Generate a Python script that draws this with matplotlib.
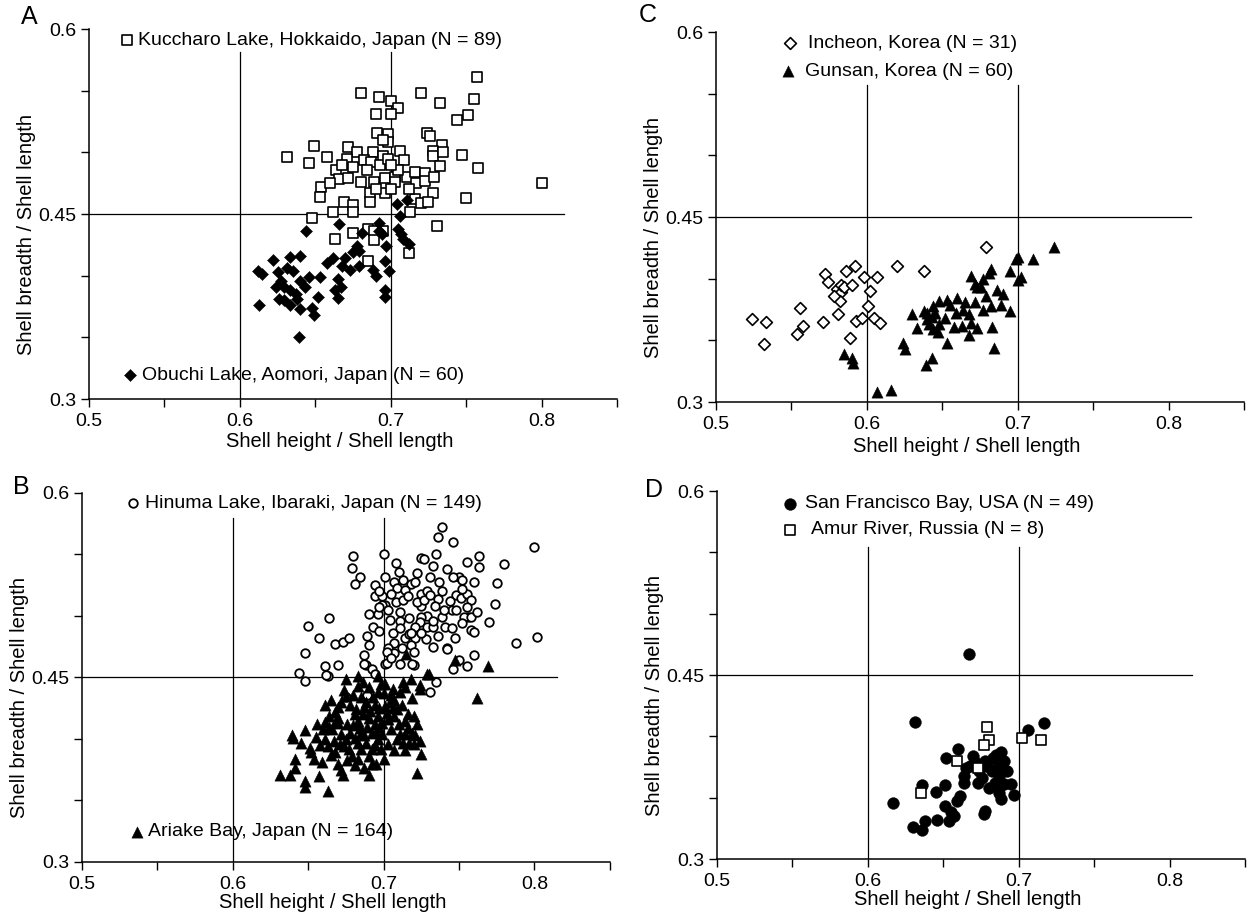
import matplotlib.pyplot as plt
import numpy as np

plt.rcParams["font.family"] = ["Liberation Sans", "DejaVu Sans"]

# ---- panel A: Kuccharo Lake (open squares), Obuchi Lake (filled diamonds)
kuccharo = np.array([
    (0.757, 0.561), (0.680, 0.548), (0.692, 0.545), (0.700, 0.542), (0.720, 0.548),
    (0.705, 0.536), (0.733, 0.540), (0.755, 0.543), (0.690, 0.531), (0.700, 0.531),
    (0.751, 0.530), (0.744, 0.526), (0.691, 0.516), (0.698, 0.515), (0.724, 0.516),
    (0.726, 0.513), (0.698, 0.508), (0.734, 0.506), (0.649, 0.505), (0.672, 0.504),
    (0.631, 0.496), (0.646, 0.491), (0.658, 0.496), (0.678, 0.500), (0.688, 0.500),
    (0.695, 0.497), (0.706, 0.501), (0.709, 0.494), (0.728, 0.501), (0.728, 0.497),
    (0.747, 0.498), (0.671, 0.495), (0.682, 0.494), (0.687, 0.492), (0.693, 0.490),
    (0.698, 0.495), (0.733, 0.489), (0.758, 0.487), (0.664, 0.486), (0.675, 0.488),
    (0.666, 0.478), (0.672, 0.479), (0.680, 0.476), (0.689, 0.476), (0.696, 0.479),
    (0.703, 0.480), (0.703, 0.476), (0.711, 0.480), (0.716, 0.484), (0.717, 0.475),
    (0.723, 0.483), (0.723, 0.477), (0.729, 0.480), (0.800, 0.475), (0.654, 0.472),
    (0.653, 0.464), (0.686, 0.467), (0.686, 0.460), (0.696, 0.467), (0.669, 0.460),
    (0.675, 0.457), (0.716, 0.462), (0.720, 0.459), (0.728, 0.467), (0.750, 0.463),
    (0.662, 0.452), (0.648, 0.447), (0.713, 0.452), (0.731, 0.440), (0.675, 0.435),
    (0.663, 0.430), (0.685, 0.438), (0.689, 0.436), (0.689, 0.429), (0.695, 0.436),
    (0.685, 0.412), (0.712, 0.418), (0.668, 0.490), (0.684, 0.486), (0.700, 0.470),
    (0.712, 0.470), (0.705, 0.486), (0.690, 0.470), (0.660, 0.475), (0.735, 0.500),
    (0.725, 0.460), (0.700, 0.490), (0.675, 0.452), (0.695, 0.510),
])
obuchi = np.array([
    (0.704, 0.458), (0.711, 0.461), (0.706, 0.448), (0.692, 0.443), (0.666, 0.442),
    (0.644, 0.436), (0.681, 0.435), (0.692, 0.436), (0.694, 0.434), (0.705, 0.438),
    (0.707, 0.434), (0.708, 0.430), (0.712, 0.426), (0.697, 0.424), (0.678, 0.424),
    (0.679, 0.420), (0.675, 0.419), (0.670, 0.414), (0.662, 0.414), (0.658, 0.410),
    (0.668, 0.408), (0.673, 0.405), (0.679, 0.408), (0.688, 0.405), (0.690, 0.400),
    (0.696, 0.412), (0.699, 0.404), (0.696, 0.388), (0.696, 0.383), (0.665, 0.397),
    (0.663, 0.388), (0.667, 0.391), (0.665, 0.382), (0.653, 0.399), (0.652, 0.383),
    (0.646, 0.399), (0.640, 0.396), (0.640, 0.416), (0.633, 0.415), (0.622, 0.413),
    (0.612, 0.404), (0.615, 0.401), (0.625, 0.403), (0.631, 0.406), (0.635, 0.404),
    (0.627, 0.396), (0.629, 0.391), (0.633, 0.388), (0.637, 0.385), (0.626, 0.381),
    (0.613, 0.376), (0.633, 0.376), (0.640, 0.373), (0.648, 0.374), (0.649, 0.368),
    (0.639, 0.350), (0.629, 0.380), (0.638, 0.381), (0.624, 0.391), (0.643, 0.391),
])

# ---- panel B: Hinuma Lake (open circles), Ariake Bay (filled triangles)
hinuma = np.array([
    (0.739, 0.572), (0.736, 0.564), (0.746, 0.560), (0.800, 0.556), (0.680, 0.549),
    (0.700, 0.550), (0.708, 0.543), (0.725, 0.547), (0.727, 0.546), (0.735, 0.550),
    (0.763, 0.549), (0.755, 0.544), (0.780, 0.542), (0.679, 0.539), (0.684, 0.532),
    (0.681, 0.526), (0.701, 0.532), (0.733, 0.541), (0.763, 0.540), (0.731, 0.532),
    (0.737, 0.528), (0.750, 0.532), (0.752, 0.529), (0.760, 0.528), (0.775, 0.527),
    (0.707, 0.528), (0.713, 0.529), (0.718, 0.526), (0.721, 0.528), (0.694, 0.525),
    (0.709, 0.523), (0.714, 0.521), (0.694, 0.516), (0.699, 0.516), (0.725, 0.518),
    (0.729, 0.520), (0.736, 0.514), (0.748, 0.517), (0.751, 0.515), (0.755, 0.518),
    (0.758, 0.513), (0.774, 0.510), (0.708, 0.511), (0.713, 0.513), (0.701, 0.509),
    (0.699, 0.509), (0.703, 0.505), (0.711, 0.503), (0.690, 0.502), (0.696, 0.502),
    (0.725, 0.508), (0.734, 0.508), (0.745, 0.505), (0.748, 0.505), (0.755, 0.507),
    (0.756, 0.499), (0.753, 0.499), (0.758, 0.499), (0.739, 0.499), (0.729, 0.500),
    (0.725, 0.499), (0.724, 0.495), (0.711, 0.496), (0.664, 0.498), (0.650, 0.492),
    (0.693, 0.491), (0.721, 0.491), (0.729, 0.491), (0.733, 0.491), (0.741, 0.491),
    (0.770, 0.495), (0.758, 0.489), (0.760, 0.487), (0.802, 0.483), (0.788, 0.478),
    (0.657, 0.482), (0.668, 0.477), (0.673, 0.479), (0.677, 0.482), (0.689, 0.484),
    (0.690, 0.476), (0.706, 0.486), (0.707, 0.478), (0.703, 0.474), (0.714, 0.482),
    (0.717, 0.485), (0.721, 0.482), (0.728, 0.481), (0.718, 0.476), (0.720, 0.471),
    (0.747, 0.482), (0.742, 0.474), (0.760, 0.468), (0.750, 0.464), (0.755, 0.459),
    (0.746, 0.457), (0.648, 0.470), (0.661, 0.459), (0.663, 0.451), (0.670, 0.460),
    (0.644, 0.454), (0.648, 0.447), (0.687, 0.468), (0.688, 0.460), (0.692, 0.457),
    (0.701, 0.461), (0.707, 0.470), (0.702, 0.471), (0.711, 0.461), (0.720, 0.460),
    (0.735, 0.446), (0.662, 0.452), (0.694, 0.453), (0.731, 0.438), (0.675, 0.434),
    (0.689, 0.436), (0.742, 0.473), (0.702, 0.462), (0.719, 0.461), (0.687, 0.461),
    (0.697, 0.520), (0.705, 0.518), (0.716, 0.516), (0.722, 0.511), (0.727, 0.513),
    (0.731, 0.517), (0.739, 0.520), (0.744, 0.512), (0.752, 0.522), (0.740, 0.505),
    (0.733, 0.496), (0.717, 0.498), (0.704, 0.497), (0.697, 0.507), (0.711, 0.490),
    (0.718, 0.486), (0.725, 0.486), (0.736, 0.484), (0.745, 0.490), (0.752, 0.494),
    (0.762, 0.503), (0.712, 0.474), (0.733, 0.475), (0.697, 0.488), (0.705, 0.466),
    (0.746, 0.532), (0.742, 0.538), (0.722, 0.535), (0.710, 0.536),
])
ariake = np.array([
    (0.720, 0.419), (0.722, 0.372), (0.656, 0.412), (0.648, 0.407), (0.639, 0.403),
    (0.645, 0.397), (0.631, 0.371), (0.638, 0.371), (0.641, 0.376), (0.641, 0.384),
    (0.648, 0.366), (0.648, 0.361), (0.663, 0.358), (0.657, 0.370), (0.652, 0.389),
    (0.654, 0.384), (0.672, 0.375), (0.673, 0.371), (0.683, 0.384), (0.690, 0.371),
    (0.692, 0.380), (0.695, 0.380), (0.687, 0.376), (0.717, 0.397), (0.720, 0.396),
    (0.714, 0.391), (0.719, 0.405), (0.714, 0.404), (0.709, 0.400), (0.705, 0.408),
    (0.707, 0.419), (0.703, 0.416), (0.661, 0.400), (0.666, 0.408), (0.668, 0.389),
    (0.674, 0.394), (0.679, 0.386), (0.683, 0.397), (0.687, 0.403), (0.692, 0.392),
    (0.661, 0.414), (0.670, 0.417), (0.676, 0.412), (0.683, 0.415), (0.690, 0.417),
    (0.694, 0.412), (0.672, 0.404), (0.678, 0.405), (0.696, 0.400), (0.659, 0.381),
    (0.663, 0.394), (0.664, 0.419), (0.675, 0.449), (0.683, 0.451), (0.730, 0.453),
    (0.724, 0.441), (0.714, 0.442), (0.711, 0.438), (0.718, 0.449), (0.747, 0.464),
    (0.715, 0.469), (0.661, 0.428), (0.670, 0.426), (0.683, 0.443), (0.690, 0.442),
    (0.701, 0.445), (0.696, 0.438), (0.705, 0.436), (0.707, 0.432), (0.709, 0.424),
    (0.701, 0.427), (0.694, 0.428), (0.687, 0.426), (0.681, 0.420), (0.670, 0.413),
    (0.683, 0.413), (0.696, 0.419), (0.675, 0.435), (0.685, 0.434), (0.714, 0.415),
    (0.686, 0.446), (0.696, 0.451), (0.713, 0.446), (0.729, 0.453), (0.724, 0.444),
    (0.769, 0.459), (0.762, 0.433), (0.721, 0.403), (0.640, 0.401), (0.665, 0.432),
    (0.668, 0.422), (0.672, 0.430), (0.674, 0.440), (0.678, 0.428), (0.680, 0.436),
    (0.682, 0.424), (0.684, 0.409), (0.686, 0.420), (0.688, 0.430), (0.689, 0.410),
    (0.691, 0.423), (0.693, 0.434), (0.695, 0.406), (0.697, 0.425), (0.699, 0.413),
    (0.700, 0.437), (0.702, 0.421), (0.704, 0.430), (0.698, 0.392), (0.700, 0.384),
    (0.706, 0.425), (0.710, 0.412), (0.712, 0.428), (0.716, 0.420), (0.719, 0.433),
    (0.667, 0.398), (0.671, 0.396), (0.675, 0.400), (0.677, 0.392), (0.681, 0.401),
    (0.685, 0.392), (0.688, 0.397), (0.690, 0.386), (0.694, 0.395), (0.681, 0.379),
    (0.676, 0.383), (0.670, 0.380), (0.665, 0.387), (0.658, 0.395), (0.655, 0.402),
    (0.651, 0.393), (0.660, 0.408), (0.664, 0.410), (0.668, 0.414), (0.685, 0.405),
    (0.680, 0.411), (0.692, 0.405), (0.697, 0.410), (0.699, 0.404), (0.703, 0.396),
    (0.707, 0.391), (0.711, 0.404), (0.713, 0.397), (0.716, 0.409), (0.722, 0.412),
    (0.724, 0.398), (0.725, 0.388), (0.706, 0.441), (0.698, 0.445),
])

# ---- panel C: Incheon (open diamonds), Gunsan (filled triangles)
incheon = np.array([
    (0.679, 0.426), (0.524, 0.367), (0.533, 0.365), (0.532, 0.347), (0.556, 0.376),
    (0.558, 0.362), (0.554, 0.355), (0.571, 0.365), (0.572, 0.404), (0.574, 0.397),
    (0.580, 0.392), (0.583, 0.389), (0.583, 0.395), (0.585, 0.393), (0.582, 0.382),
    (0.581, 0.371), (0.586, 0.406), (0.592, 0.410), (0.598, 0.401), (0.607, 0.401),
    (0.602, 0.390), (0.601, 0.378), (0.593, 0.366), (0.597, 0.368), (0.605, 0.368),
    (0.609, 0.364), (0.589, 0.352), (0.620, 0.410), (0.638, 0.406), (0.590, 0.395),
    (0.578, 0.386),
])
gunsan = np.array([
    (0.724, 0.426), (0.700, 0.418), (0.710, 0.416), (0.699, 0.416), (0.695, 0.406),
    (0.702, 0.401), (0.682, 0.408), (0.681, 0.405), (0.677, 0.400), (0.669, 0.402),
    (0.673, 0.393), (0.676, 0.393), (0.686, 0.391), (0.630, 0.371), (0.638, 0.374),
    (0.640, 0.367), (0.641, 0.363), (0.643, 0.369), (0.644, 0.378), (0.648, 0.382),
    (0.653, 0.383), (0.660, 0.384), (0.665, 0.381), (0.672, 0.381), (0.677, 0.375),
    (0.682, 0.378), (0.689, 0.379), (0.695, 0.374), (0.659, 0.372), (0.658, 0.361),
    (0.663, 0.362), (0.668, 0.371), (0.669, 0.364), (0.673, 0.360), (0.668, 0.354),
    (0.683, 0.361), (0.684, 0.344), (0.653, 0.348), (0.644, 0.359), (0.624, 0.348),
    (0.625, 0.343), (0.643, 0.336), (0.639, 0.330), (0.585, 0.339), (0.590, 0.336),
    (0.591, 0.332), (0.607, 0.308), (0.616, 0.310), (0.648, 0.363), (0.645, 0.372),
    (0.652, 0.368), (0.640, 0.372), (0.664, 0.375), (0.690, 0.388), (0.700, 0.399),
    (0.647, 0.357), (0.672, 0.396), (0.679, 0.386), (0.633, 0.360), (0.655, 0.379),
])

# ---- panel D: San Francisco Bay (filled circles), Amur River (open squares)
san_francisco = np.array([
    (0.667, 0.467), (0.631, 0.412), (0.717, 0.411), (0.706, 0.405), (0.660, 0.390),
    (0.652, 0.382), (0.617, 0.346), (0.636, 0.360), (0.630, 0.326), (0.638, 0.331),
    (0.645, 0.355), (0.651, 0.360), (0.661, 0.351), (0.651, 0.343), (0.655, 0.338),
    (0.657, 0.335), (0.654, 0.331), (0.664, 0.368), (0.664, 0.362), (0.668, 0.376),
    (0.671, 0.379), (0.674, 0.372), (0.673, 0.362), (0.678, 0.380), (0.679, 0.376),
    (0.682, 0.372), (0.685, 0.385), (0.688, 0.387), (0.690, 0.380), (0.686, 0.375),
    (0.687, 0.368), (0.684, 0.362), (0.688, 0.360), (0.690, 0.361), (0.695, 0.361),
    (0.687, 0.354), (0.688, 0.349), (0.697, 0.352), (0.678, 0.339), (0.677, 0.337),
    (0.670, 0.384), (0.665, 0.374), (0.676, 0.366), (0.683, 0.382), (0.692, 0.372),
    (0.680, 0.358), (0.659, 0.347), (0.646, 0.332), (0.636, 0.324),
])
amur = np.array([
    (0.679, 0.408), (0.680, 0.397), (0.677, 0.393), (0.702, 0.399), (0.715, 0.397),
    (0.659, 0.380), (0.673, 0.374), (0.635, 0.354),
])

x_ticks = [0.5, 0.55, 0.6, 0.65, 0.7, 0.75, 0.8, 0.85]
x_tick_labels = ["0.5", "", "0.6", "", "0.7", "", "0.8", ""]
y_ticks = [0.3, 0.35, 0.4, 0.45, 0.5, 0.55, 0.6]
y_tick_labels = ["0.3", "", "", "0.45", "", "", "0.6"]

open_sq = dict(marker="s", s=44, facecolors="white", edgecolors="black", linewidths=1.2)
open_diam = dict(marker="D", s=36, facecolors="white", edgecolors="black", linewidths=1.2)
open_circ = dict(marker="o", s=38, facecolors="white", edgecolors="black", linewidths=1.3)
fill_diam = dict(marker="D", s=38, color="black", linewidths=0.3)
fill_tri = dict(marker="^", s=66, color="black", linewidths=0.3)
fill_circ = dict(marker="o", s=72, color="black", linewidths=0.3)


def setup_panel(ax, letter, letter_xy, vline_top, xlabel_y):
    ax.set_xlim(0.5, 0.85)
    ax.set_ylim(0.3, 0.6)
    ax.spines["top"].set_visible(False)
    ax.spines["right"].set_visible(False)
    ax.spines["left"].set_linewidth(1.1)
    ax.spines["bottom"].set_linewidth(1.1)
    ax.set_xticks(x_ticks, x_tick_labels)
    ax.set_yticks(y_ticks, y_tick_labels)
    ax.tick_params(direction="out", length=6, width=1.0, labelsize=14, pad=4)
    ax.tick_params(axis="y", pad=3)
    for xv in (0.6, 0.7):
        ax.plot([xv, xv], [0.3, vline_top], color="black", lw=0.9, zorder=1)
    ax.plot([0.5, 0.815], [0.45, 0.45], color="black", lw=0.9, zorder=1)
    ax.set_xlabel("Shell height / Shell length", fontsize=14.5)
    ax.set_ylabel("Shell breadth / Shell length", fontsize=14.5)
    ax.xaxis.set_label_coords(0.475, xlabel_y)
    ax.yaxis.set_label_coords(-0.10, 0.445)
    ax.text(letter_xy[0], letter_xy[1], letter, transform=ax.transAxes,
            fontsize=18, ha="center", va="center")


def legend_entry(ax, mx, tx, y, style, label):
    ax.scatter([mx], [y], clip_on=False, zorder=3, **style)
    ax.text(tx, y, label, fontsize=14, ha="left", va="center")


fig = plt.figure(figsize=(12.57, 9.16), dpi=100)
ax_a = fig.add_axes([0.0708, 0.5644, 0.4200, 0.4039])
ax_c = fig.add_axes([0.5696, 0.5611, 0.4200, 0.4039])
ax_b = fig.add_axes([0.0652, 0.0590, 0.4200, 0.4028])
ax_d = fig.add_axes([0.5704, 0.0622, 0.4200, 0.4017])

setup_panel(ax_a, "A", (-0.114, 1.032), 0.581, -0.088)
ax_a.scatter(kuccharo[:, 0], kuccharo[:, 1], zorder=2, **open_sq)
ax_a.scatter(obuchi[:, 0], obuchi[:, 1], zorder=3, **fill_diam)
legend_entry(ax_a, 0.5254, 0.5326, 0.5908, open_sq, "Kuccharo Lake, Hokkaido, Japan (N = 89)")
legend_entry(ax_a, 0.5273, 0.5353, 0.3192, fill_diam, "Obuchi Lake, Aomori, Japan (N = 60)")

setup_panel(ax_b, "B", (-0.114, 1.016), 0.580, -0.085)
ax_b.scatter(hinuma[:, 0], hinuma[:, 1], zorder=2, **open_circ)
ax_b.scatter(ariake[:, 0], ariake[:, 1], zorder=3, **fill_tri)
legend_entry(ax_b, 0.534, 0.5418, 0.5915, open_circ, "Hinuma Lake, Ibaraki, Japan (N = 149)")
legend_entry(ax_b, 0.5368, 0.544, 0.3246, fill_tri, "Ariake Bay, Japan (N = 164)")

setup_panel(ax_c, "C", (-0.13, 1.046), 0.557, -0.095)
ax_c.scatter(incheon[:, 0], incheon[:, 1], zorder=2, **open_diam)
ax_c.scatter(gunsan[:, 0], gunsan[:, 1], zorder=3, **fill_tri)
legend_entry(ax_c, 0.5491, 0.5611, 0.5908, open_diam, "Incheon, Korea (N = 31)")
legend_entry(ax_c, 0.5478, 0.559, 0.5682, fill_tri, "Gunsan, Korea (N = 60)")

setup_panel(ax_d, "D", (-0.119, 1.003), 0.554, -0.085)
ax_d.scatter(san_francisco[:, 0], san_francisco[:, 1], zorder=2, **fill_circ)
ax_d.scatter(amur[:, 0], amur[:, 1], zorder=3, **open_sq)
legend_entry(ax_d, 0.5482, 0.5583, 0.5897, fill_circ, "San Francisco Bay, USA (N = 49)")
legend_entry(ax_d, 0.5482, 0.5623, 0.5685, open_sq, "Amur River, Russia (N = 8)")

fig.savefig("out.png", dpi=100)
